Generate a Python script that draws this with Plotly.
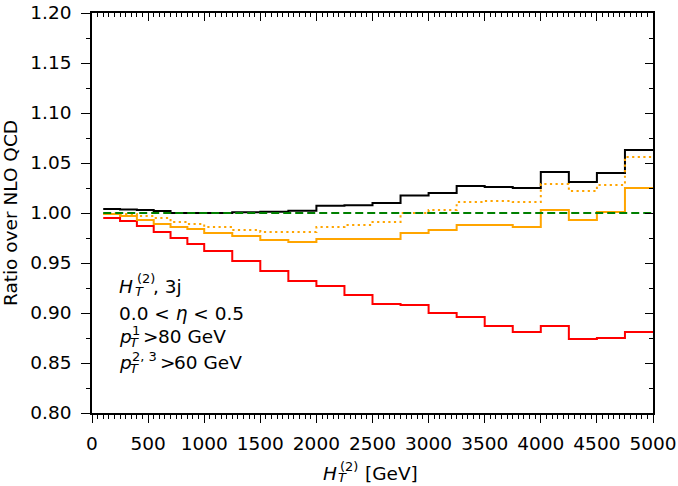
import plotly.graph_objects as go

# ---------------- data ----------------
bin_edges = [100, 250, 400, 550, 700, 850, 1000, 1250, 1500, 1750, 2000, 2250,
             2500, 2750, 3000, 3250, 3500, 3750, 4000, 4250, 4500, 4750, 5000]

black_ratio = [1.004, 1.0035, 1.003, 1.002, 1.000, 1.000, 1.000, 1.0007, 1.0013, 1.0023,
               1.0073, 1.0077, 1.010, 1.0175, 1.020, 1.027, 1.026, 1.025, 1.041, 1.031,
               1.040, 1.063]
red_ratio = [0.995, 0.992, 0.987, 0.981, 0.975, 0.969, 0.962, 0.952, 0.942, 0.932,
             0.927, 0.918, 0.909, 0.908, 0.900, 0.896, 0.887, 0.881, 0.887, 0.874,
             0.875, 0.881]
orange_ratio = [0.999, 0.997, 0.993, 0.989, 0.986, 0.984, 0.980, 0.977, 0.973, 0.971,
                0.974, 0.974, 0.974, 0.980, 0.983, 0.988, 0.988, 0.986, 1.003, 0.993,
                1.001, 1.025]
orange_dot_ratio = [0.9995, 0.999, 0.997, 0.995, 0.991, 0.989, 0.986, 0.983, 0.981, 0.981,
                    0.986, 0.988, 0.991, 1.000, 1.003, 1.011, 1.012, 1.011, 1.029, 1.022,
                    1.028, 1.056]
nlo_ratio = [1.0, 1.0, 1.0, 1.0, 1.0, 1.0, 1.0, 1.0, 1.0, 1.0, 1.0,
             1.0, 1.0, 1.0, 1.0, 1.0, 1.0, 1.0, 1.0, 1.0, 1.0, 1.0]

x_ticks = [0, 500, 1000, 1500, 2000, 2500, 3000, 3500, 4000, 4500, 5000]
y_ticks = [0.80, 0.85, 0.90, 0.95, 1.00, 1.05, 1.10, 1.15, 1.20]

FONT = "DejaVu Sans"
FS = 18.5
SUB = 13

W_FIG, H_FIG = 678, 486
ML, MR, MT, MB = 92, 25, 13, 73
PW = W_FIG - ML - MR
PH = H_FIG - MT - MB


def step(vals):
    return list(vals) + [vals[-1]]


fig = go.Figure()

series = [
    (black_ratio, "black", None),
    (red_ratio, "#ff0000", None),
    (orange_ratio, "#ffa500", None),
    (orange_dot_ratio, "#ffa500", "2.2px,3.4px"),
]
for vals, col, dash in series:
    fig.add_trace(go.Scatter(
        x=bin_edges, y=step(vals), mode="lines", line_shape="hv",
        line=dict(color=col, width=2, dash=dash if dash else "solid"),
        hoverinfo="skip", showlegend=False))

# reference line on overlay axes (top/right with inward ticks)
fig.add_trace(go.Scatter(
    x=bin_edges, y=step(nlo_ratio), mode="lines", line_shape="hv",
    line=dict(color="#008000", width=2, dash="8px,4px"),
    xaxis="x2", yaxis="y2", hoverinfo="skip", showlegend=False))

axis_common = dict(showgrid=False, zeroline=False, showline=True, linecolor="black",
                   linewidth=1.6, tickcolor="black", tickwidth=1.4, automargin=False,
                   tickfont=dict(family=FONT, size=FS, color="black"))

fig.update_layout(
    template="none",
    width=W_FIG, height=H_FIG,
    margin=dict(l=ML, r=MR, t=MT, b=MB, autoexpand=False),
    paper_bgcolor="white", plot_bgcolor="white",
    showlegend=False,
    font=dict(family=FONT, size=FS, color="black"),
    xaxis=dict(range=[0, 5000], tickvals=x_ticks, ticks="outside", ticklen=8,
               ticklabelstandoff=5,
               minor=dict(dtick=50, tick0=0, ticks="outside", ticklen=4,
                          tickwidth=1.1, tickcolor="black"),
               **axis_common),
    yaxis=dict(range=[0.80, 1.20], tickvals=y_ticks, tickformat=".2f",
               ticks="outside", ticklen=9, ticklabelstandoff=6,
               minor=dict(dtick=0.025, tick0=0.8, ticks="outside", ticklen=4,
                          tickwidth=1.1, tickcolor="black"),
               title=dict(text="Ratio over NLO QCD", standoff=15,
                          font=dict(family=FONT, size=FS, color="black")),
               **axis_common),
    xaxis2=dict(range=[0, 5000], overlaying="x", side="top", anchor="y2",
                tickvals=x_ticks, ticks="inside", ticklen=8, showticklabels=False,
                minor=dict(dtick=50, tick0=0, ticks="inside", ticklen=4,
                           tickwidth=1.1, tickcolor="black"),
                **axis_common),
    yaxis2=dict(range=[0.80, 1.20], overlaying="y", side="right", anchor="x2",
                tickvals=y_ticks, ticks="inside", ticklen=8, showticklabels=False,
                minor=dict(dtick=0.025, tick0=0.8, ticks="inside", ticklen=4,
                           tickwidth=1.1, tickcolor="black"),
                **axis_common),
)


def ptext(txt, x_px, base_px, size):
    """Place a piece of text with its left edge at x_px and baseline at base_px (pixels)."""
    xc = (x_px - ML) / PW
    yc = (MT + PH - (base_px - 0.35 * size)) / PH
    fig.add_annotation(xref="paper", yref="paper", x=xc, y=yc, text=txt,
                       xanchor="left", yanchor="middle", showarrow=False,
                       borderpad=0, font=dict(family=FONT, size=size, color="black"))


# text block inside plot
ptext("<i>H</i>", 118, 293, FS)
ptext("(2)", 136, 283, SUB)
ptext("<i>T</i>", 134, 296.5, SUB)
ptext(", 3j", 152, 293, FS)

ptext("0.0 &lt; <i>η</i> &lt; 0.5", 118, 320, FS)

ptext("<i>p</i>", 118, 343, FS)
ptext("1", 131, 335, SUB)
ptext("<i>T</i>", 129, 347, SUB)
ptext("&gt;", 142, 343, FS)
ptext("80 GeV", 157, 343, FS)

ptext("<i>p</i>", 118, 369, FS)
ptext("2, 3", 131, 361, SUB)
ptext("<i>T</i>", 129, 373, SUB)
ptext("&gt;", 158.5, 369, FS)
ptext("60 GeV", 172.5, 369, FS)

# x-axis title
ptext("<i>H</i>", 322, 480, FS)
ptext("(2)", 339, 471, SUB)
ptext("<i>T</i>", 337, 482.5, SUB)
ptext("[GeV]", 364, 480, FS)

fig.write_html("out.html")
